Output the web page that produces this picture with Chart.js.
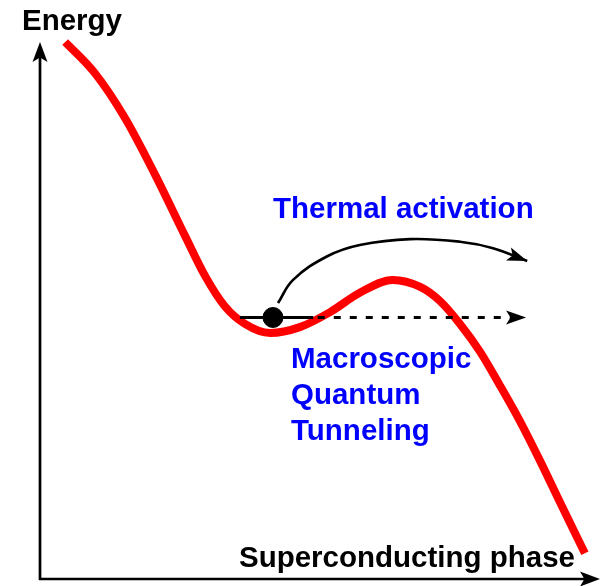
<!DOCTYPE html>
<html>
<head>
<meta charset="utf-8">
<script src="https://cdn.jsdelivr.net/npm/chart.js@4/dist/chart.umd.min.js"></script>
<style>
  html, body { margin: 0; padding: 0; background: #fff; }
  #wrap { position: relative; width: 603px; height: 586px; }
</style>
</head>
<body>
<div id="wrap"><canvas id="chart"></canvas></div>
<script>
// potencial (fase x energia), eixos de 0 a 10
const phase  = [0.45, 0.98, 1.52, 2.05, 2.59, 2.95, 3.30, 3.66, 4.11, 4.64, 5.18, 5.71, 6.30, 6.79, 7.14, 7.50, 7.86, 8.21, 8.57, 8.93, 9.29, 9.73];
const energy = [10.0, 9.42, 8.58, 7.54, 6.39, 5.64, 5.08, 4.75, 4.58, 4.69, 4.97, 5.33, 5.57, 5.44, 5.18, 4.75, 4.23, 3.61, 2.94, 2.20, 1.42, 0.48];

// nível de energia e partícula
const levelX = [3.57, 4.88];
const levelY = 4.87;
const tunnelEndX = 8.68;
const particleX = 4.16;

// seta da ativação térmica
const thermalX = [4.25, 4.52, 5.13, 5.71, 6.61, 7.50, 8.09, 8.70];
const thermalY = [5.14, 5.57, 6.01, 6.22, 6.33, 6.28, 6.16, 5.92];

const FONT = 'bold 29.5px "Liberation Sans", Arial, sans-serif';
const BLUE = '#0000ff';

const pts = (xs, ys) => xs.map((x, i) => ({ x, y: Array.isArray(ys) ? ys[i] : ys }));

function arrowHead(ctx, x, y, ang, len, half) {
  ctx.save();
  ctx.translate(x, y);
  ctx.rotate(ang);
  ctx.beginPath();
  ctx.moveTo(0, 0);
  ctx.lineTo(-len, -half);
  ctx.lineTo(-len * 0.78, 0);
  ctx.lineTo(-len, half);
  ctx.closePath();
  ctx.fillStyle = '#000';
  ctx.fill();
  ctx.restore();
}

const decoracao = {
  id: 'decoracao',
  beforeDatasetsDraw(chart) {
    const { ctx, chartArea: a } = chart;
    ctx.save();
    ctx.strokeStyle = '#000';
    ctx.lineWidth = 2.7;
    ctx.beginPath();
    ctx.moveTo(a.left, a.bottom + 1);
    ctx.lineTo(a.left, a.top + 12);
    ctx.moveTo(a.left - 1, a.bottom);
    ctx.lineTo(a.right - 12, a.bottom);
    ctx.stroke();
    arrowHead(ctx, a.left, a.top, -Math.PI / 2, 20, 7.5);
    arrowHead(ctx, a.right, a.bottom, 0, 20, 7.5);

    ctx.font = FONT;
    ctx.fillStyle = '#000';
    ctx.textBaseline = 'alphabetic';
    ctx.textAlign = 'left';
    ctx.fillText('Energy', a.left - 18, a.top - 12);
    ctx.textAlign = 'right';
    ctx.fillText('Superconducting phase', a.right - 25, a.bottom - 12);
    ctx.restore();
  },
  afterDatasetsDraw(chart) {
    const { ctx, scales: { x, y } } = chart;
    ctx.save();
    // ponta da seta tracejada
    arrowHead(ctx, x.getPixelForValue(tunnelEndX), y.getPixelForValue(levelY), 0, 20, 7);
    // ponta da seta curva
    const n = thermalX.length;
    const x1 = x.getPixelForValue(thermalX[n - 2]), y1 = y.getPixelForValue(thermalY[n - 2]);
    const x2 = x.getPixelForValue(thermalX[n - 1]), y2 = y.getPixelForValue(thermalY[n - 1]);
    arrowHead(ctx, x2, y2, Math.atan2(y2 - y1, x2 - x1), 20, 7);

    ctx.font = FONT;
    ctx.fillStyle = BLUE;
    ctx.textAlign = 'left';
    ctx.fillText('Thermal activation', 273, 218);
    ctx.fillText('Macroscopic', 291, 368);
    ctx.fillText('Quantum', 291, 404);
    ctx.fillText('Tunneling', 291, 440);
    ctx.restore();
  }
};

new Chart(document.getElementById('chart'), {
  type: 'scatter',
  data: {
    datasets: [
      {
        data: [{ x: particleX, y: levelY }],
        backgroundColor: '#000', borderColor: '#000',
        pointRadius: 10, showLine: false, order: 0
      },
      {
        data: pts(levelX, levelY),
        borderColor: '#000', borderWidth: 3.2, showLine: true,
        pointRadius: 0, order: 1
      },
      {
        data: pts([levelX[1] + 0.08, tunnelEndX - 0.25], levelY),
        borderColor: '#000', borderWidth: 3.2, borderDash: [7, 9], showLine: true,
        pointRadius: 0, order: 1
      },
      {
        data: pts(thermalX, thermalY),
        borderColor: '#000', borderWidth: 2.7, showLine: true, tension: 0.4,
        pointRadius: 0, order: 1
      },
      {
        data: pts(phase, energy),
        borderColor: '#ff0000', borderWidth: 8, showLine: true,
        cubicInterpolationMode: 'monotone',
        pointRadius: 0, order: 2
      }
    ]
  },
  options: {
    responsive: true,
    maintainAspectRatio: false,
    animation: false,
    devicePixelRatio: 1,
    clip: false,
    layout: { autoPadding: false, padding: { left: 40, right: 3, top: 42, bottom: 7 } },
    plugins: { legend: { display: false }, tooltip: { enabled: false } },
    scales: {
      x: { type: 'linear', min: 0, max: 10, display: false },
      y: { type: 'linear', min: 0, max: 10, display: false }
    }
  },
  plugins: [decoracao]
});
</script>
</body>
</html>
